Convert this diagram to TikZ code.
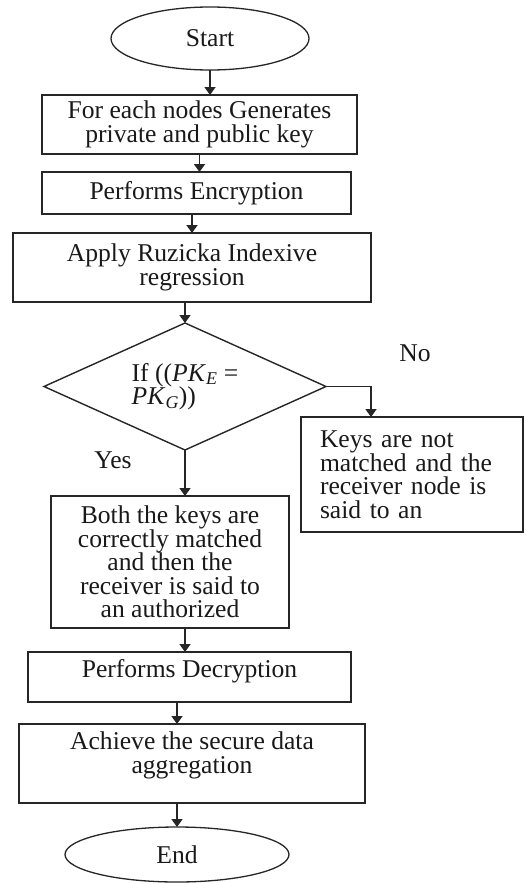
\documentclass[tikz,border=0pt]{standalone}
\usepackage{fontspec}
\setmainfont{Liberation Serif}
\usetikzlibrary{arrows.meta,positioning,shapes.geometric}

\begin{document}
\begin{tikzpicture}[
    x=1pt, y=-1pt,
    every node/.style={font=\fontsize{25.6}{23.5}\selectfont, text=black!90},
    box/.style={draw=black!85, line width=1.8pt, align=center, inner sep=2pt, outer sep=0pt},
    term/.style={ellipse, draw=black!85, line width=1.3pt, inner sep=0pt, outer sep=0pt},
    decide/.style={diamond, shape aspect=2.22, draw=black!85, line width=1.4pt, inner sep=1pt, outer sep=0pt, align=left},
    arrow/.style={-{Triangle[length=8pt,width=11pt]}, line width=1.8pt, draw=black!85}
  ]
  \useasboundingbox (0,0) rectangle (525,883);
  \node[term, minimum width=198pt, minimum height=63pt] (start) at (210,38.5) {Start};
  \node[box, minimum width=315pt, minimum height=59pt, below=25pt of start, xshift=-10.5pt] (gen) {For each nodes Generates\\private and public key};
  \node[box, minimum width=309pt, minimum height=42pt, below=18pt of gen, xshift=-3pt] (enc) {Performs Encryption};
  \node[box, minimum width=358pt, minimum height=69pt, below=19pt of enc, xshift=-4.5pt] (apply) {Apply Ruzicka Indexive\\regression};
  \node[decide, minimum width=282pt, minimum height=127pt, below=21pt of apply, xshift=-7pt] (dec) {If ((\textit{PK}\textsubscript{\textit{E}} =\\\textit{PK}\textsubscript{\textit{G}}))};
  \node[box, align=left, text width=184pt, minimum width=222pt, minimum height=115pt] (notm) at (412,474.5) {Keys are not\\matched and the\\receiver node is\\said to an};
  \node[box, minimum width=238pt, minimum height=132pt, below=46pt of dec, xshift=-15pt] (auth) {Both the keys are\\correctly matched\\and then the\\receiver is said to\\an authorized};
  \node[box, minimum width=323pt, minimum height=50pt, text depth=17.6pt, below=24pt of auth, xshift=19.5pt] (decr) {Performs Decryption};
  \node[box, minimum width=346pt, minimum height=79pt, text depth=21.6pt, below=22pt of decr, xshift=2.5pt] (ach) {Achieve the secure data\\aggregation};
  \node[term, minimum width=224pt, minimum height=55pt, below=24pt of ach, xshift=-15pt] (fin) {End};

  \node (nolab) at (415,353) {No};
  \node (yeslab) at (113,460) {Yes};

  \draw[arrow] (start.south) -- (start.south |- gen.north);
  \draw[arrow] (gen.south) -- (gen.south |- enc.north);
  \draw[arrow] (apply.north |- enc.south) -- (apply.north);
  \draw[arrow] (dec.north |- apply.south) -- (dec.north);
  \draw[arrow] (dec.south) -- (dec.south |- auth.north);
  \draw[arrow] (dec.east) -| ([xshift=-41pt]notm.north);
  \draw[arrow] (auth.south -| dec.south) -- (decr.north -| dec.south);
  \draw[arrow] (decr.south -| fin.north) -- (ach.north -| fin.north);
  \draw[arrow] (fin.north |- ach.south) -- (fin.north);
\end{tikzpicture}
\end{document}
